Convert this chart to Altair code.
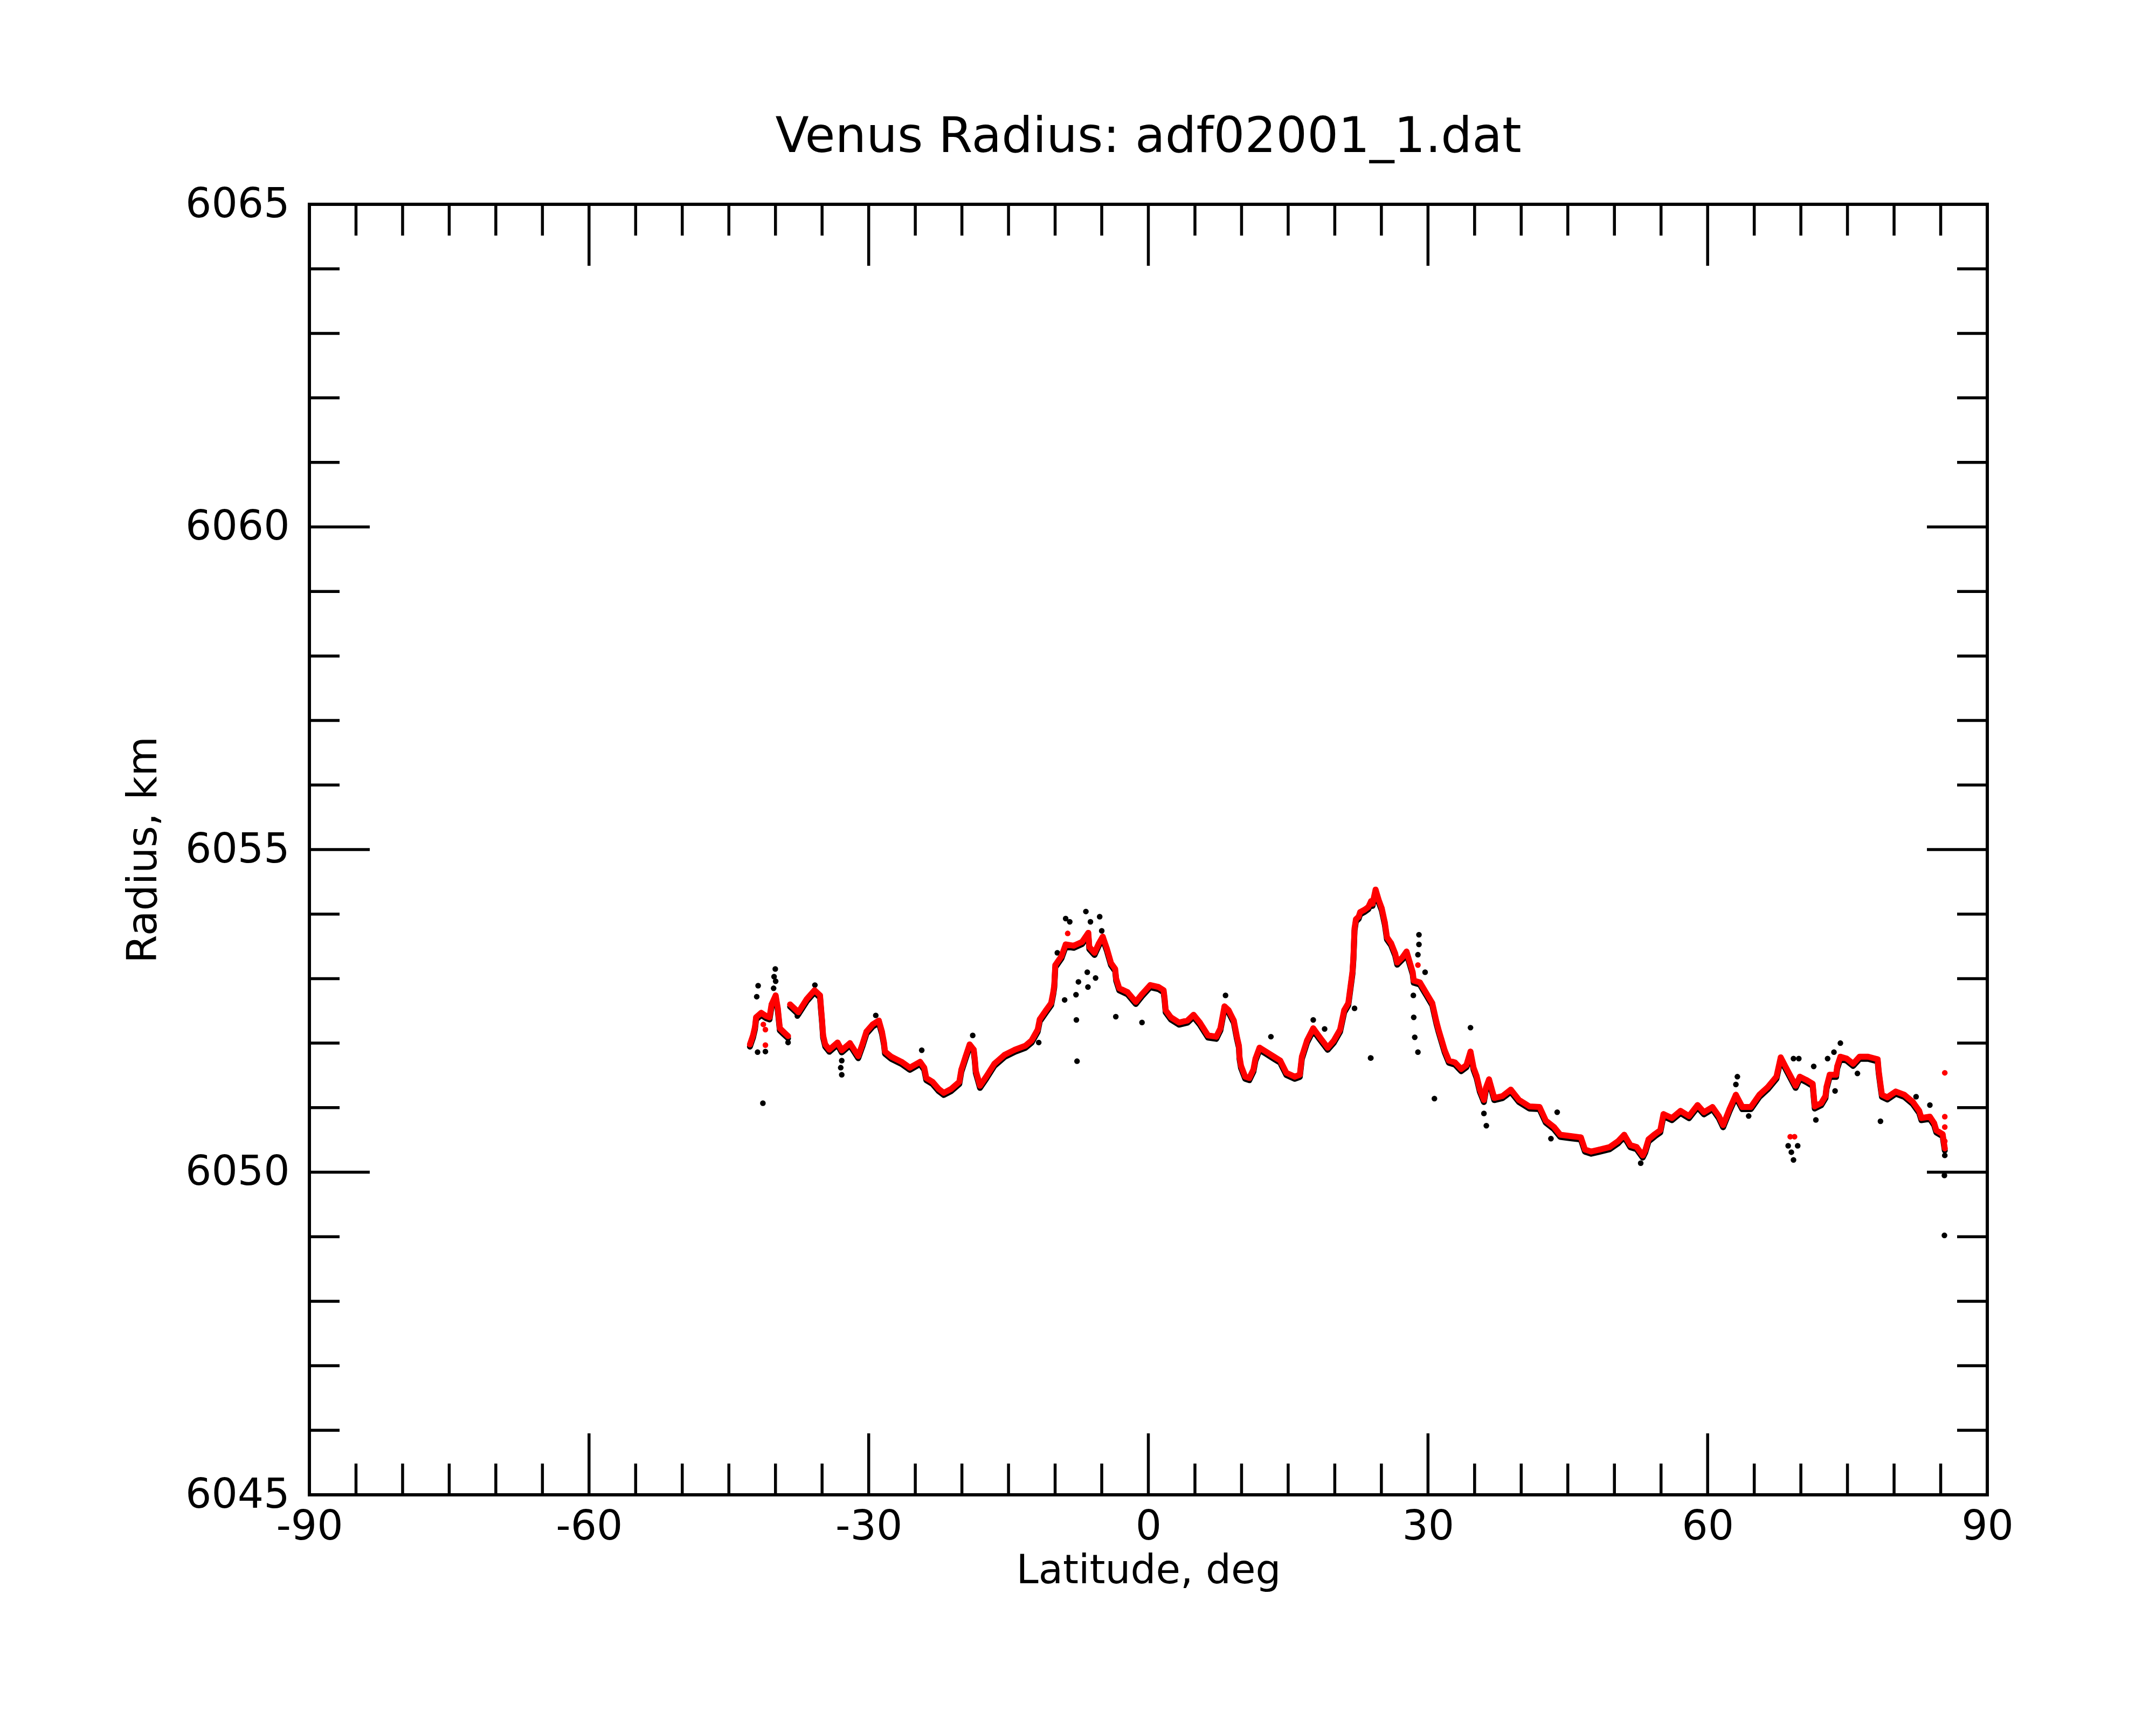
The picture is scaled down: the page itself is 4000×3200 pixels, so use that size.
import altair as alt
import pandas as pd

TITLE = "Venus Radius: adf02001_1.dat"
X_TITLE = "Latitude, deg"
Y_TITLE = "Radius, km"

x_domain = [-90, 90]
y_domain = [6045, 6065]
x_labels = [-90, -60, -30, 0, 30, 60, 90]
x_major = [-60, -30, 0, 30, 60]
x_minor = [-85, -80, -75, -70, -65, -55, -50, -45, -40, -35, -25, -20, -15, -10, -5,
           5, 10, 15, 20, 25, 35, 40, 45, 50, 55, 65, 70, 75, 80, 85]
y_labels = [6045, 6050, 6055, 6060, 6065]
y_major = [6050, 6055, 6060]
y_minor = [6046, 6047, 6048, 6049, 6051, 6052, 6053, 6054, 6056, 6057, 6058, 6059,
           6061, 6062, 6063, 6064]

# smoothed (red) profile
trace_lat = [
    -42.74, -42.41, -42.2, -42.08, -41.53, -41.0, -40.64, -40.42, -39.98, -39.75, -39.53, -39.1, -38.65,
    -38.43, -37.54, -36.66, -35.81, -35.22, -35.11, -35.0, -34.89, -34.66, -34.22, -33.34, -32.89,
    -32.01, -31.12, -30.68, -30.24, -29.57, -28.91, -28.58, -28.36, -28.25, -27.58, -26.47, -25.59,
    -24.48, -24.04, -23.82, -23.15, -22.49, -21.94, -21.16, -20.28, -20.06, -19.61, -19.17, -18.73,
    -18.62, -18.51, -18.29, -18.06, -17.4, -16.52, -15.41, -14.3, -13.19, -12.53, -11.87, -11.65,
    -10.98, -10.43, -10.2, -10.09, -9.98, -9.31, -8.87, -7.99, -7.1, -6.44, -6.33, -5.77, -5.33,
    -4.89, -4.44, -4.0, -3.56, -3.45, -3.12, -2.23, -1.35, -0.68, 0.2, 1.09, 1.64, 1.75, 1.86, 2.42,
    3.3, 4.19, 4.85, 5.52, 6.4, 7.29, 7.73, 8.17, 8.61, 9.17, 9.5, 9.72, 9.78, 9.94, 10.39, 10.83,
    11.27, 11.49, 11.93, 12.6, 13.48, 14.15, 14.81, 15.7, 16.25, 16.47, 17.02, 17.69, 18.35, 19.24,
    19.9, 20.57, 21.01, 21.45, 21.9, 22.0, 22.12, 22.27, 22.56, 22.72, 23.22, 23.6, 23.89, 24.05,
    24.38, 24.71, 25.04, 25.37, 25.6, 26.04, 26.48, 26.7, 27.26, 27.7, 28.03, 28.36, 28.47, 29.14,
    29.8, 30.46, 30.91, 31.13, 31.46, 31.79, 32.24, 32.9, 33.56, 34.12, 34.56, 34.89, 35.22, 35.56,
    36.0, 36.22, 36.55, 37.11, 37.99, 38.88, 39.76, 40.87, 41.97, 42.64, 43.52, 44.19, 45.29, 46.4,
    46.84, 47.51, 48.39, 49.5, 50.39, 51.05, 51.71, 52.38, 53.04, 53.31, 53.66, 54.34, 54.92, 55.26,
    56.17, 57.09, 58.0, 58.92, 59.6, 60.52, 61.2, 61.66, 62.35, 63.03, 63.72, 64.63, 65.55, 66.46,
    67.38, 67.84, 68.41, 69.44, 69.89, 70.58, 71.27, 71.49, 72.18, 72.64, 72.75, 73.09, 73.78, 73.9,
    74.24, 74.92, 75.61, 76.3, 77.21, 78.24, 78.35, 78.58, 78.7, 79.27, 80.18, 81.1, 82.01, 82.7,
    82.93, 83.84, 84.3, 84.53, 85.21, 85.44,
]
trace_r = [
    6051.98, 6052.12, 6052.25, 6052.40, 6052.47, 6052.42, 6052.40, 6052.60, 6052.74, 6052.54, 6052.23, 6052.17, 6052.11,
    6052.60, 6052.48, 6052.68, 6052.82, 6052.74, 6052.54, 6052.35, 6052.12, 6051.98, 6051.90, 6052.01, 6051.89,
    6052.00, 6051.80, 6051.98, 6052.18, 6052.29, 6052.35, 6052.18, 6052.01, 6051.87, 6051.79, 6051.71, 6051.62,
    6051.71, 6051.62, 6051.46, 6051.40, 6051.29, 6051.23, 6051.29, 6051.40, 6051.59, 6051.79, 6051.98, 6051.90,
    6051.76, 6051.57, 6051.46, 6051.34, 6051.48, 6051.68, 6051.82, 6051.90, 6051.96, 6052.04, 6052.21, 6052.37,
    6052.51, 6052.62, 6052.79, 6052.90, 6053.21, 6053.35, 6053.53, 6053.51, 6053.57, 6053.71, 6053.49, 6053.40, 6053.54,
    6053.65, 6053.46, 6053.24, 6053.15, 6053.00, 6052.85, 6052.79, 6052.64, 6052.76, 6052.90, 6052.87, 6052.82, 6052.69, 6052.51, 6052.40,
    6052.32, 6052.35, 6052.44, 6052.32, 6052.12, 6052.10, 6052.23, 6052.57, 6052.51, 6052.35, 6052.10, 6051.96, 6051.79, 6051.65, 6051.48, 6051.46,
    6051.59, 6051.76, 6051.93, 6051.87, 6051.79, 6051.73, 6051.54, 6051.48, 6051.51, 6051.79, 6052.04, 6052.23, 6052.10, 6051.93,
    6052.04, 6052.21, 6052.51, 6052.62, 6053.11, 6053.33, 6053.78, 6053.92, 6053.96, 6054.03, 6054.07, 6054.11, 6054.20, 6054.16,
    6054.38, 6054.22, 6054.09, 6053.87, 6053.64, 6053.55, 6053.39, 6053.25, 6053.33, 6053.42, 6053.26, 6053.10, 6052.97, 6052.94,
    6052.78, 6052.62, 6052.33, 6052.21, 6052.05, 6051.89, 6051.73, 6051.70, 6051.60, 6051.66, 6051.87, 6051.62, 6051.49, 6051.28,
    6051.12, 6051.31, 6051.44, 6051.15, 6051.18, 6051.28, 6051.12, 6051.02, 6051.01, 6050.80, 6050.70, 6050.58, 6050.56, 6050.54,
    6050.35, 6050.32, 6050.35, 6050.39, 6050.48, 6050.58, 6050.42, 6050.39, 6050.26, 6050.34, 6050.51, 6050.59, 6050.65, 6050.90,
    6050.84, 6050.95, 6050.87, 6051.04, 6050.93, 6051.01, 6050.87, 6050.73, 6050.98, 6051.20, 6051.01, 6051.01, 6051.20, 6051.32,
    6051.48, 6051.78, 6051.62, 6051.34, 6051.48, 6051.43, 6051.37, 6051.02, 6051.07, 6051.18, 6051.32, 6051.51, 6051.51, 6051.64,
    6051.79, 6051.76, 6051.68, 6051.79, 6051.79, 6051.75, 6051.57, 6051.32, 6051.20, 6051.16, 6051.25, 6051.20, 6051.09, 6050.95,
    6050.84, 6050.86, 6050.76, 6050.65, 6050.59, 6050.37,
]
segment_starts = [-38.43]

# isolated red points
red_extra_lat = [-41.3, -41.08, -41.08, -8.65, 28.92, 68.86, 69.32, 85.44, 85.44, 85.44, 85.44]
red_extra_r = [6052.29, 6052.21, 6051.97, 6053.70, 6053.21, 6050.55, 6050.55, 6051.54, 6050.86, 6050.70, 6050.48]

# raw (black) points that stand away from the red profile
black_extra_lat = [
    -40.02, -40.15, -39.98, -40.2, -41.86, -42.01, -41.92, -41.08, -41.35, -38.65, -37.65, -32.89, -33.0,
    -32.89, -35.77, -29.24, -24.31, -18.84, -11.76,
    -8.87, -8.43, -6.7, -6.21, -5.22, -5.0, -9.76, -6.55, -5.66, -7.5, -6.48, -7.76, -8.98, -7.72, -3.49,
    -0.68, -7.65, 8.28, 13.15, 22.12, 23.84, 17.69, 18.91,
    29.03, 29.03, 28.92, 29.69, 28.43, 28.47, 28.58, 28.92, 23.87, 30.69, 34.56, 36.0, 36.26, 43.86, 43.19, 52.82,
    63.19, 63.03, 64.4, 71.61, 74.24, 73.55, 72.87, 71.38, 69.21, 69.78, 68.64, 69.66, 68.98, 69.21, 78.54, 82.36,
    83.84, 76.07, 85.44, 85.4, 85.4, 73.67,
]
black_extra_r = [
    6053.15, 6053.03, 6052.96, 6052.85, 6052.89, 6052.72, 6051.86, 6051.87, 6051.07, 6052.01, 6052.42, 6051.73, 6051.62,
    6051.51, 6052.90, 6052.43, 6051.89, 6052.12, 6052.01,
    6053.93, 6053.88, 6054.04, 6053.88, 6053.96, 6053.74, 6053.40, 6053.10, 6053.01, 6052.95, 6052.87, 6052.75, 6052.67, 6052.36, 6052.41,
    6052.32, 6051.72, 6052.74, 6052.10, 6052.54, 6051.77, 6052.36, 6052.22,
    6053.68, 6053.53, 6053.37, 6053.10, 6052.74, 6052.40, 6052.09, 6051.86, 6051.77, 6051.14, 6052.24, 6050.91, 6050.72, 6050.93, 6050.52, 6050.14,
    6051.48, 6051.36, 6050.87, 6050.81, 6052.00, 6051.86, 6051.76, 6051.64, 6051.76, 6051.76, 6050.41, 6050.41, 6050.31, 6050.19, 6050.79, 6051.17,
    6051.04, 6051.53, 6050.26, 6049.95, 6049.02, 6051.26,
]

W, H = 3113, 2394
FONT = "DejaVu Sans"
RED = "#ff0000"

trace_df = pd.DataFrame({"lat": trace_lat, "r": trace_r})
trace_df["seg"] = [sum(1 for s in segment_starts if v >= s) for v in trace_lat]
red_extra_df = pd.DataFrame({"lat": red_extra_lat, "r": red_extra_r})
black_extra_df = pd.DataFrame({"lat": black_extra_lat, "r": black_extra_r})

xs = alt.Scale(domain=x_domain, nice=False, zero=False)
ys = alt.Scale(domain=y_domain, nice=False, zero=False)

x_axis = alt.Axis(values=x_labels, labelExpr="'' + datum.value", tickSize=0, domain=False, grid=False,
                  labelFontSize=76, labelPadding=22, labelFlush=False, labelOverlap=False,
                  labelLimit=1000, labelColor="black", labelFont=FONT,
                  title=X_TITLE, titleFontSize=74, titleFontWeight="normal", titlePadding=8,
                  titleColor="black", titleFont=FONT)
y_axis = alt.Axis(values=y_labels, labelExpr="'' + datum.value", tickSize=0, domain=False, grid=False,
                  labelFontSize=76, labelPadding=37, labelFlush=False, labelOverlap=False,
                  labelLimit=1000, labelColor="black", labelFont=FONT,
                  title=Y_TITLE, titleFontSize=76, titleFontWeight="normal", titlePadding=69,
                  titleColor="black", titleFont=FONT)

X = alt.X("lat:Q", scale=xs, axis=x_axis)
Y = alt.Y("r:Q", scale=ys, axis=y_axis)

black_pts = alt.Chart(black_extra_df).mark_circle(color="black", size=110, opacity=1).encode(x=X, y=Y)
black_line = alt.Chart(trace_df).mark_line(color="black", strokeWidth=11, yOffset=4,
                                           strokeCap="round", strokeJoin="round").encode(x=X, y=Y, detail="seg:N")
red_line = alt.Chart(trace_df).mark_line(color=RED, strokeWidth=11,
                                         strokeCap="round", strokeJoin="round").encode(x=X, y=Y, detail="seg:N")
red_pts = alt.Chart(trace_df).mark_circle(color=RED, size=110, opacity=1).encode(x=X, y=Y)
red_extra = alt.Chart(red_extra_df).mark_circle(color=RED, size=110, opacity=1).encode(x=X, y=Y)

TW = 5.5
def xticks(vals, length):
    df = pd.DataFrame({"lat": vals})
    top = alt.Chart(df).mark_rule(color="black", strokeWidth=TW).encode(
        x=X, y=alt.value(0), y2=alt.value(length))
    bot = alt.Chart(df).mark_rule(color="black", strokeWidth=TW).encode(
        x=X, y=alt.value(H), y2=alt.value(H - length))
    return [top, bot]

def yticks(vals, length):
    df = pd.DataFrame({"r": vals})
    left = alt.Chart(df).mark_rule(color="black", strokeWidth=TW).encode(
        y=Y, x=alt.value(0), x2=alt.value(length))
    right = alt.Chart(df).mark_rule(color="black", strokeWidth=TW).encode(
        y=Y, x=alt.value(W), x2=alt.value(W - length))
    return [left, right]

title_df = pd.DataFrame({"t": [TITLE]})
title_mark = alt.Chart(title_df).mark_text(
    fontSize=91, font=FONT, color="black", baseline="alphabetic", align="center"
).encode(text="t:N", x=alt.value(W / 2), y=alt.value(-97))

layers = [black_pts, black_line, red_line, red_pts, red_extra]
layers += xticks(x_major, 114) + xticks(x_minor, 58) + yticks(y_major, 112) + yticks(y_minor, 56)
layers += [title_mark]

chart = alt.layer(*layers).properties(
    width=W, height=H,
    autosize=alt.AutoSizeParams(type="none"),
    padding={"left": 566, "top": 371, "right": 300, "bottom": 420},
).configure(
    font=FONT, background="white"
).configure_view(
    stroke="black", strokeWidth=6, fill="white"
)

chart.save("out.html", embed_options={"renderer": "svg", "actions": False})
